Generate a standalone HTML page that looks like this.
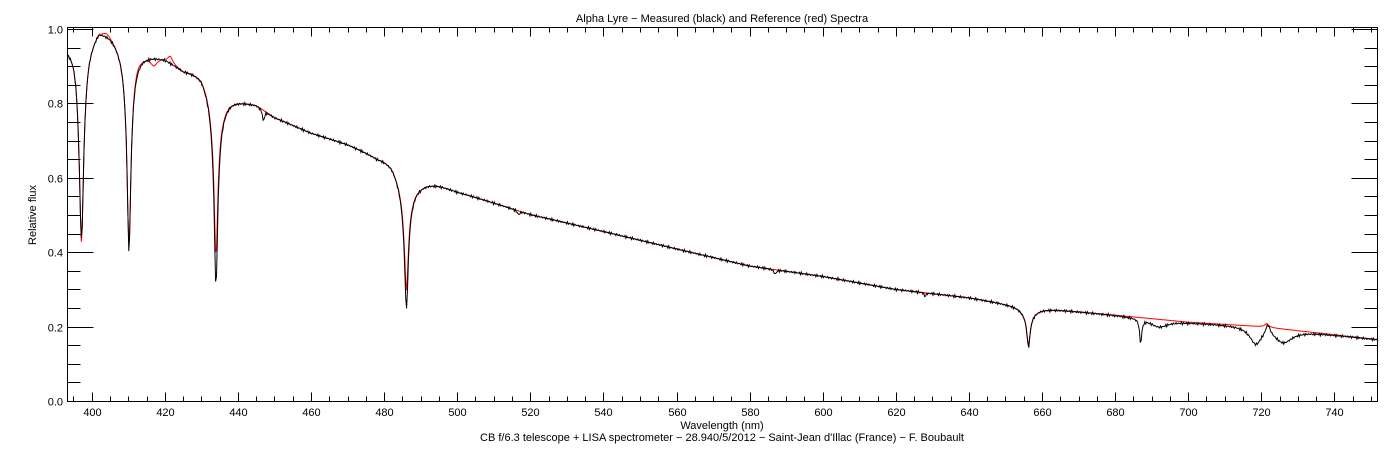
<!DOCTYPE html>
<html><head><meta charset="utf-8"><style>
html,body{margin:0;padding:0;background:#fff;width:1390px;height:450px;overflow:hidden}
svg text{font-family:"Liberation Sans",sans-serif;font-size:11px;fill:#000}
</style></head><body>
<svg id="s" width="1390" height="450" xmlns="http://www.w3.org/2000/svg">
<text x="722" y="22" text-anchor="middle" font-size="12">Alpha Lyre − Measured (black) and Reference (red) Spectra</text>
<text x="722" y="429" text-anchor="middle">Wavelength (nm)</text>
<text x="722" y="441" text-anchor="middle">CB f/6.3 telescope + LISA spectrometer − 28.940/5/2012 − Saint-Jean d'Illac (France) − F. Boubault</text>
<text transform="translate(36,215) rotate(-90)" text-anchor="middle">Relative flux</text>
<g id="ax" stroke="#000" stroke-width="1" fill="none"></g>
<path id="red" stroke="#f00" stroke-width="1" fill="none"/>
<path id="blk" stroke="#000" stroke-width="1" fill="none"/>
</svg>
<script>
var L=67.5,R=1377.5,T=27.5,B=401.5;
function X(w){return 91.7+(w-400)*3.655}
function Y(f){return 401-f*372}
var ax=document.getElementById('ax'),s=document.getElementById('s');
var h='<rect x="'+L+'" y="'+T+'" width="'+(R-L)+'" height="'+(B-T)+'"/>';
var t='';
for(var w=395;w<=752;w+=5){var x=Math.round(X(w))+0.5,maj=(w%20==0),l=maj?9:5;
h+='<line x1="'+x+'" y1="'+B+'" x2="'+x+'" y2="'+(B-l)+'"/><line x1="'+x+'" y1="'+T+'" x2="'+x+'" y2="'+(T+l)+'"/>';
if(maj)t+='<text x="'+x+'" y="416" text-anchor="middle">'+w+'</text>';}
for(var i=0;i<=20;i++){var f=i*0.05,y=Math.round(Y(f))+0.5,maj=(i%4==0),l=maj?26:13;
h+='<line x1="'+L+'" y1="'+y+'" x2="'+(L+l)+'" y2="'+y+'"/><line x1="'+R+'" y1="'+y+'" x2="'+(R-l)+'" y2="'+y+'"/>';
if(maj)t+='<text x="63" y="'+(y+4)+'" text-anchor="end">'+f.toFixed(1)+'</text>';}
ax.innerHTML=h;s.insertAdjacentHTML('beforeend',t);
var C=[[393.4,0.96],[395,0.97],[400,0.99],[402,1.01],[405,0.995],[408,0.97],[412,0.945],[416,0.935],[420,0.925],[425,0.895],[430,0.89],[436,0.83],[440,0.815],[445,0.8],[450,0.765],[460,0.722],[470,0.692],[478,0.66],[482,0.655],[490,0.6],[495,0.585],[500,0.565],[520,0.502],[540,0.456],[560,0.409],[580,0.363],[600,0.335],[620,0.3],[640,0.278],[650,0.262],[660,0.25],[680,0.231],[700,0.212],[720,0.2],[740,0.178],[752,0.165]];
function cont(w){for(var i=0;i<C.length-1;i++){if(w<=C[i+1][0]){var a=C[i],b=C[i+1];return a[1]+(b[1]-a[1])*(w-a[0])/(b[0]-a[0]);}}return 0.165}
function lor(w,c,d,g){var u=(w-c)/g;return d/(1+u*u)}
var lines=[[397.2,0.44,0.45,0.7,0.1,1.6],[410.2,0.45,0.44,0.6,0.1,1.8],[434.0,0.44,0.36,0.6,0.1,2.2],[486.1,0.28,0.23,0.6,0.1,2.5],[656.3,0.08,0.075,0.5,0.03,2.2]];
function spec(w,black){var f=cont(w);
for(var k=0;k<lines.length;k++){var q=lines[k];f-=lor(w,q[0],black?q[1]:q[2],q[3])+lor(w,q[0],q[4],q[5]);}
if(black){f-=lor(w,687,0.065,0.35)+lor(w,692,0.02,3)+lor(w,718.5,0.045,2)+lor(w,726,0.035,3)+lor(w,628,0.01,0.3)+lor(w,447,0.03,0.3)+lor(w,587,0.012,0.4)+lor(w,516.8,0.01,0.4);
f+=lor(w,721.8,0.03,0.8);f+=(Math.sin(w*37.1)*0.5+Math.sin(w*91.7)*0.5)*0.004;}
else{f+=lor(w,412.5,0.01,1.2)+lor(w,421.5,0.02,0.8)-lor(w,417,0.02,1)+lor(w,721.5,0.01,0.6)+lor(w,404,0.01,1);}
return f}
function path(b){var p='';for(var w=393.4;w<=752;w+=0.25){p+=(p?'L':'M')+X(w).toFixed(1)+','+Y(spec(w,b)).toFixed(1);}return p}
document.getElementById('red').setAttribute('d',path(false));
document.getElementById('blk').setAttribute('d',path(true));
</script>
</body></html>
